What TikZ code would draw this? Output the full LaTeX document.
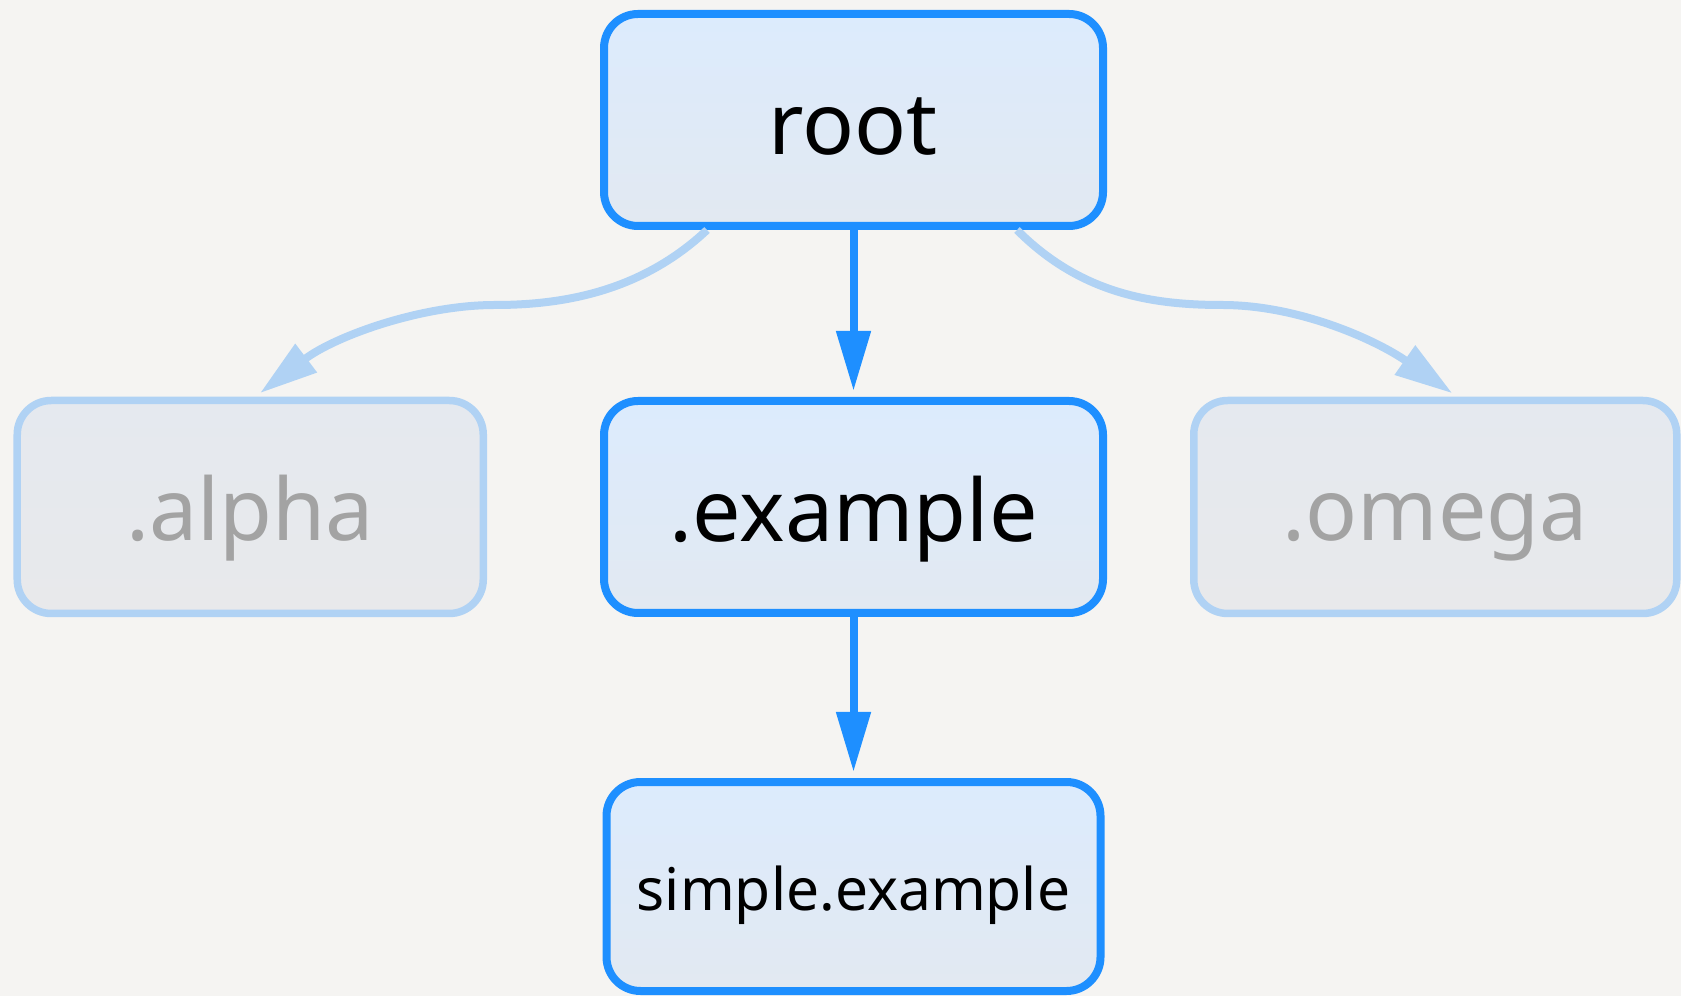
\documentclass[tikz,border=0pt]{standalone}
\usepackage{fontspec}
\setmainfont{Noto Sans}
\usepackage{tikz}
\usetikzlibrary{arrows.meta,positioning,calc}
\definecolor{pageBg}{HTML}{F5F4F2}
\definecolor{activeBlue}{HTML}{1E8FFF}
\definecolor{activeTop}{HTML}{DCEBFD}
\definecolor{activeBottom}{HTML}{E2E9F1}
\definecolor{fadedBlue}{HTML}{B0D2F4}
\definecolor{fadedTop}{HTML}{E5E9EF}
\definecolor{fadedBottom}{HTML}{E8E9EB}
\definecolor{fadedText}{HTML}{A3A3A3}

\begin{document}
\begin{tikzpicture}[
        active/.style={rectangle, rounded corners=3.4mm, draw=activeBlue, line width=0.8mm, top color=activeTop, bottom color=activeBottom, minimum width=4.99cm, minimum height=2.12cm, text height=0.8cm, text depth=0.1cm, align=center, font=\fontsize{24.5}{28}\selectfont, text=black},
        faded/.style={rectangle, rounded corners=3.4mm, draw=fadedBlue, line width=0.75mm, top color=fadedTop, bottom color=fadedBottom, minimum height=2.13cm, text height=0.78cm, text depth=0.1cm, align=center, font=\fontsize{24.5}{28}\selectfont, text=fadedText},
        arrow/.style={-{Triangle[length=6mm,width=3.3mm]}, line width=0.8mm, draw=activeBlue, shorten >=0.6mm},
        fadedarrow/.style={-{Triangle[length=5.8mm,width=3.4mm]}, line width=0.8mm, draw=fadedBlue, shorten >=0.6mm}
    ]
        % Page
        \fill[pageBg] (0,0) rectangle (16.81,9.96);
        \useasboundingbox (0,0) rectangle (16.81,9.96);

        % Root
        \node[active] (root) at (8.535,8.76) {root};

        % Second level
        \node[active, below=1.67cm of root] (example) {.example};
        \node[faded, minimum width=4.66cm, left=1.13cm of example] (alpha) {.alpha};
        \node[faded, minimum width=4.83cm, right=0.83cm of example] (omega) {.omega};

        % Leaf
        \node[active, minimum width=4.94cm, minimum height=2.09cm, text height=0.57cm, text depth=0.1cm, font=\fontsize{16.7}{20}\selectfont, below=1.61cm of example] (simple) {simple.example};

        % Bends
        \coordinate (lbend) at (4.95,6.91);
        \coordinate (rbend) at (12.22,6.91);

        % Arrows
        \draw[arrow] (root) -- (example);
        \draw[arrow] (example) -- (simple);
        \draw[fadedarrow] ([xshift=1.07cm]root.south west) .. controls +(-0.67,-0.63) and +(0.65,0) .. (lbend)
            .. controls +(-0.75,0) and +(0.79,0.60) .. ([xshift=0.05cm]alpha.north);
        \draw[fadedarrow] ([xshift=-0.90cm]root.south east) .. controls +(0.63,-0.63) and +(-0.72,0) .. (rbend)
            .. controls +(0.78,0) and +(-0.80,0.56) .. ([xshift=0.22cm]omega.north);

    \end{tikzpicture}
\end{document}
